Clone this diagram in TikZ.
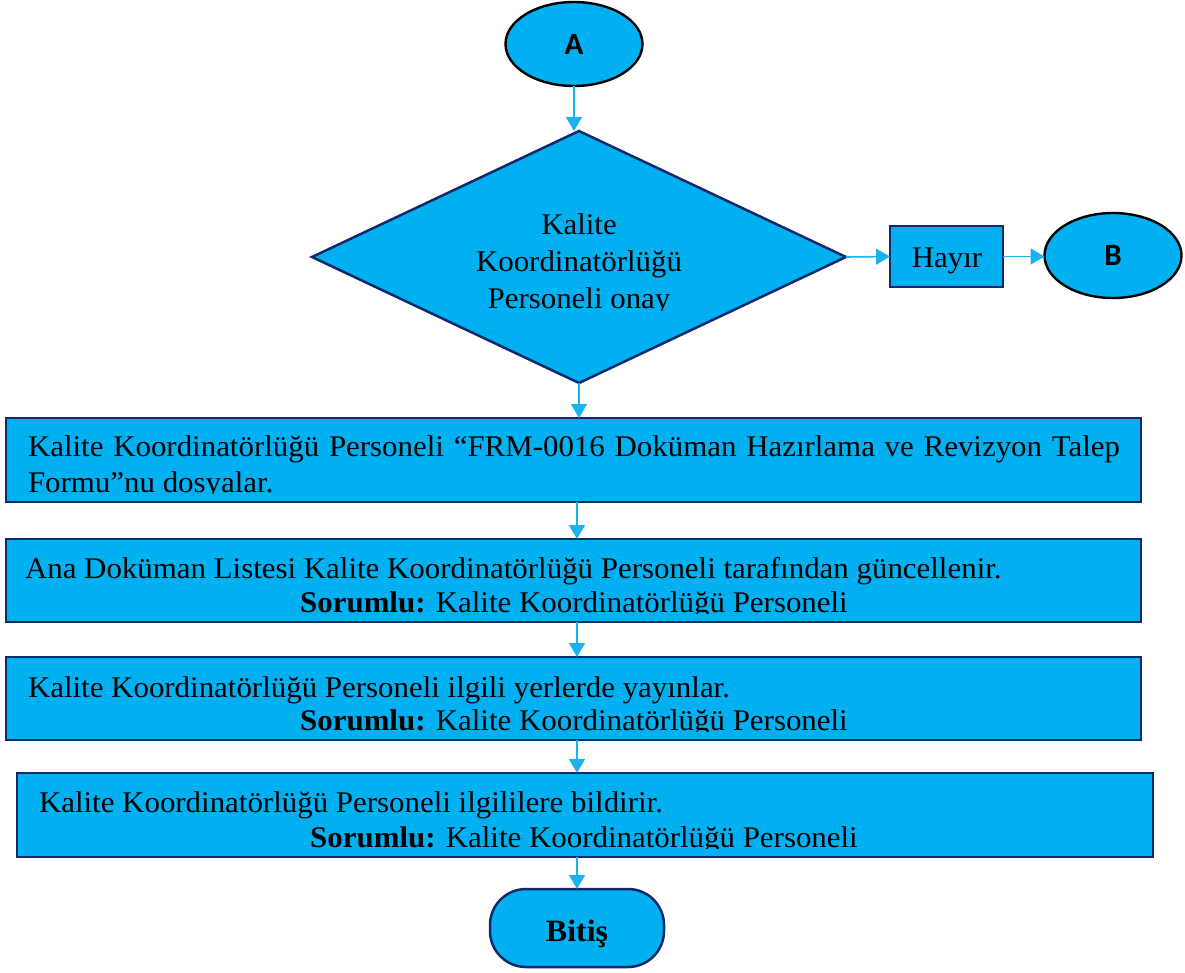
\documentclass[tikz,border=0pt]{standalone}
\usepackage{fontspec}
\setmainfont{Liberation Serif}[FakeStretch=1.03]
\newfontfamily\calfont{Carlito}
\usetikzlibrary{shapes.geometric,arrows.meta}
\definecolor{fillc}{HTML}{00B0F0}
\definecolor{navy}{HTML}{10296A}
\definecolor{arrc}{HTML}{1AB2F0}
\begin{document}
\begin{tikzpicture}[x=1pt,y=-1pt,
  every node/.style={inner sep=0pt, outer sep=0pt},
  box/.style={rectangle, draw=navy, line width=2.5pt, fill=fillc},
  term/.style={ellipse, draw=black, line width=2.4pt, fill=fillc, minimum width=137pt, minimum height=84pt},
  arr/.style={draw=arrc, line width=1.6pt, -{Triangle[length=14pt,width=16pt]}},
  txt/.style={font=\fontsize{30}{34}\selectfont, text=black},
  lbl/.style={font=\calfont\bfseries\fontsize{31}{31}\selectfont, text=black}]
\useasboundingbox (0,0) rectangle (1185,972);

% terminals
\node[term] (A) at (574,44) {};
\node[lbl, anchor=base] (Atxt) at (574,54) {A};
\node[term, minimum height=85pt] (B) at (1113,255.5) {};
\node[lbl, anchor=base] (Btxt) at (1113,265) {B};

% decision
\node[diamond, draw=navy, line width=2.5pt, fill=fillc, minimum width=534pt, minimum height=252pt, aspect=2.12] (dia) at (579,257) {};
\begin{scope}
  \clip (300,150) rectangle (860,310);
  \node[txt, anchor=base] (d1) at (579,234) {Kalite};
  \node[txt, anchor=base] (d2) at (579,271) {Koordinatörlüğü};
  \node[txt, anchor=base] (d3) at (579,308) {Personeli onay};
\end{scope}

\node[box, minimum width=113pt, minimum height=61pt] (hayir) at (946.5,256.5) {};
\node[txt, anchor=base] (hayirtxt) at (947,267) {Hayır};

% process boxes
\node[box, minimum width=1135pt, minimum height=84pt] (b1) at (573.5,460) {};
\node[box, minimum width=1135pt, minimum height=83pt] (b2) at (573.5,580.5) {};
\node[box, minimum width=1135pt, minimum height=83pt] (b3) at (573.5,698.5) {};
\node[box, minimum width=1136pt, minimum height=84pt] (b4) at (585,815) {};

\begin{scope}
  \clip (8,420) rectangle (1139,493);
  \node[txt, anchor=base west] (t1a) at (28,456) {\makebox[1092pt][s]{Kalite Koordinatörlüğü Personeli “FRM-0016 Doküman Hazırlama ve Revizyon Talep}};
  \node[txt, anchor=base west] (t1b) at (28,492) {Formu”nu dosyalar.};
\end{scope}
\begin{scope}
  \clip (8,541) rectangle (1139,613);
  \node[txt, anchor=base west] (t2a) at (25,578) {Ana Doküman Listesi Kalite Koordinatörlüğü Personeli tarafından güncellenir.};
  \node[txt, anchor=base] (t2b) at (574,612) {\textbf{Sorumlu:} Kalite Koordinatörlüğü Personeli};
\end{scope}
\begin{scope}
  \clip (8,659) rectangle (1139,731);
  \node[txt, anchor=base west] (t3a) at (28,697) {Kalite Koordinatörlüğü Personeli ilgili yerlerde yayınlar.};
  \node[txt, anchor=base] (t3b) at (574,730) {\textbf{Sorumlu:} Kalite Koordinatörlüğü Personeli};
\end{scope}
\begin{scope}
  \clip (19,775) rectangle (1151,848);
  \node[txt, anchor=base west] (t4a) at (39,812) {Kalite Koordinatörlüğü Personeli ilgililere bildirir.};
  \node[txt, anchor=base] (t4b) at (584,847) {\textbf{Sorumlu:} Kalite Koordinatörlüğü Personeli};
\end{scope}

% end terminal
\node[draw=navy, line width=2.5pt, fill=fillc, rounded corners=36pt, minimum width=174pt, minimum height=78pt] (end) at (577,928) {};
\node[txt, font=\bfseries\fontsize{31}{34}\selectfont, anchor=base] (endtxt) at (577,941) {Bitiş};

% connectors
\coordinate (xl) at (577,0);
\draw[arr] (A.south) -- (A.south |- dia.north);
\draw[arr] (dia.east) -- (hayir.west);
\draw[arr] (hayir.east) -- (hayir.east -| B.west);
\draw[arr] (dia.south) -- (dia.south |- b1.north);
\draw[arr] (b1.south -| xl) -- (b2.north -| xl);
\draw[arr] (b2.south -| xl) -- (b3.north -| xl);
\draw[arr] (b3.south -| xl) -- (b4.north -| xl);
\draw[arr] (end.north |- b4.south) -- (end.north);
\end{tikzpicture}
\end{document}
